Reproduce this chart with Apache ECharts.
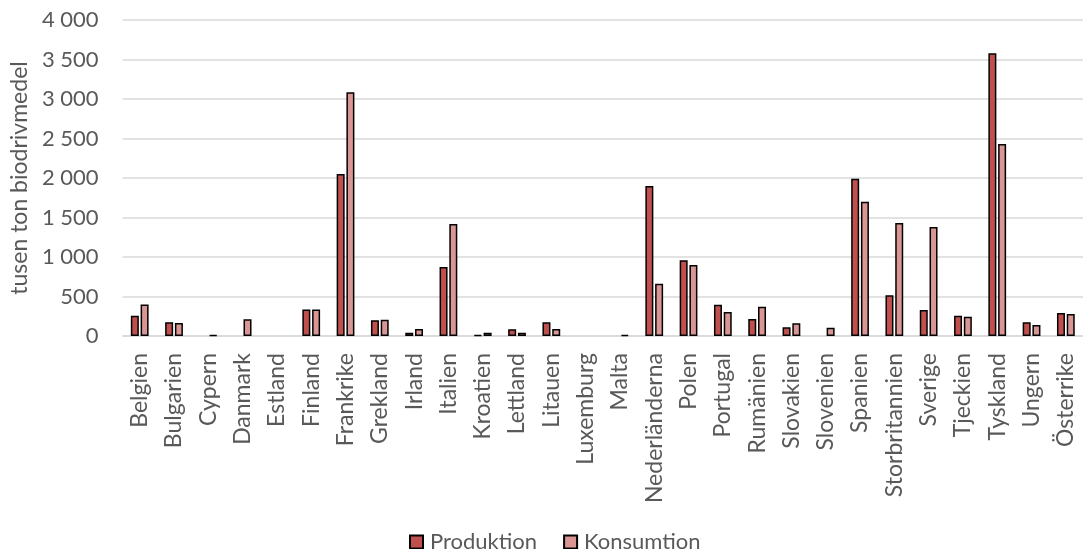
<!DOCTYPE html>
<html>
<head>
<meta charset="utf-8">
<script src="https://cdn.jsdelivr.net/npm/echarts@6/dist/echarts.min.js"></script>
<style>
  html, body { margin: 0; padding: 0; background: #fff; }
  #chart { width: 1083px; height: 549px; }
</style>
</head>
<body>
<div id="chart"></div>
<script>
// Biodrivmedel per land, tusen ton
const countries = [
  "Belgien", "Bulgarien", "Cypern", "Danmark", "Estland", "Finland", "Frankrike",
  "Grekland", "Irland", "Italien", "Kroatien", "Lettland", "Litauen", "Luxemburg",
  "Malta", "Nederländerna", "Polen", "Portugal", "Rumänien", "Slovakien", "Slovenien",
  "Spanien", "Storbritannien", "Sverige", "Tjeckien", "Tyskland", "Ungern", "Österrike"
];
const produktion = [
  257, 175, 0, 0, 0, 335, 2050,
  200, 40, 873, 10, 85, 175, 0,
  0, 1900, 960, 395, 215, 110, 0,
  1990, 515, 330, 257, 3580, 173, 290
];
const konsumtion = [
  400, 165, 10, 212, 0, 335, 3085,
  205, 90, 1418, 40, 40, 90, 0,
  15, 660, 900, 305, 370, 160, 105,
  1700, 1430, 1380, 245, 2430, 140, 280
];

const FONT = "Lato";
const TEXT = "#595959";

// "4 000" style
let fmt = (v) => String(v).replace(/\B(?=(\d{3})+(?!\d))/g, " ");

// zero bars: no outline, like the original
let withoutEmpty = (arr) => arr.map((v) => (v === 0 ? { value: 0, itemStyle: { borderWidth: 0 } } : v));

let chart = echarts.init(document.getElementById("chart"), null, { renderer: "canvas" });

chart.setOption({
  animation: false,
  textStyle: { fontFamily: FONT },
  grid: { left: 120, right: -4, top: 20, bottom: 213, containLabel: false },
  legend: {
    top: 526,
    left: 404,
    itemWidth: 13,
    itemHeight: 13,
    itemGap: 26,
    icon: "rect",
    textStyle: { fontFamily: FONT, fontSize: 22, color: TEXT, padding: [0, 0, 0, 2] },
    data: ["Produktion", "Konsumtion"]
  },
  xAxis: {
    type: "category",
    data: countries,
    axisLine: { lineStyle: { color: "#D9D9D9", width: 1.5 } },
    axisTick: { show: false },
    axisLabel: {
      rotate: 90,
      interval: 0,
      margin: 17,
      fontFamily: FONT,
      fontSize: 23,
      color: TEXT
    }
  },
  yAxis: {
    type: "value",
    min: 0,
    max: 4000,
    interval: 500,
    name: "tusen ton biodrivmedel",
    nameLocation: "middle",
    nameGap: 84,
    nameTextStyle: { fontFamily: FONT, fontSize: 23, color: TEXT },
    axisLine: { show: false },
    axisTick: { show: false },
    splitLine: { lineStyle: { color: "#D9D9D9", width: 1.5 } },
    axisLabel: {
      formatter: fmt,
      margin: 24,
      fontFamily: FONT,
      fontSize: 22,
      color: TEXT
    }
  },
  series: [
    {
      name: "Produktion",
      type: "bar",
      data: withoutEmpty(produktion),
      barWidth: 8,
      barGap: "22%",
      itemStyle: { color: "#C0504D", borderColor: "#000", borderWidth: 1.5 }
    },
    {
      name: "Konsumtion",
      type: "bar",
      data: withoutEmpty(konsumtion),
      barWidth: 8,
      itemStyle: { color: "#D99694", borderColor: "#000", borderWidth: 1.5 }
    }
  ]
});
</script>
</body>
</html>
